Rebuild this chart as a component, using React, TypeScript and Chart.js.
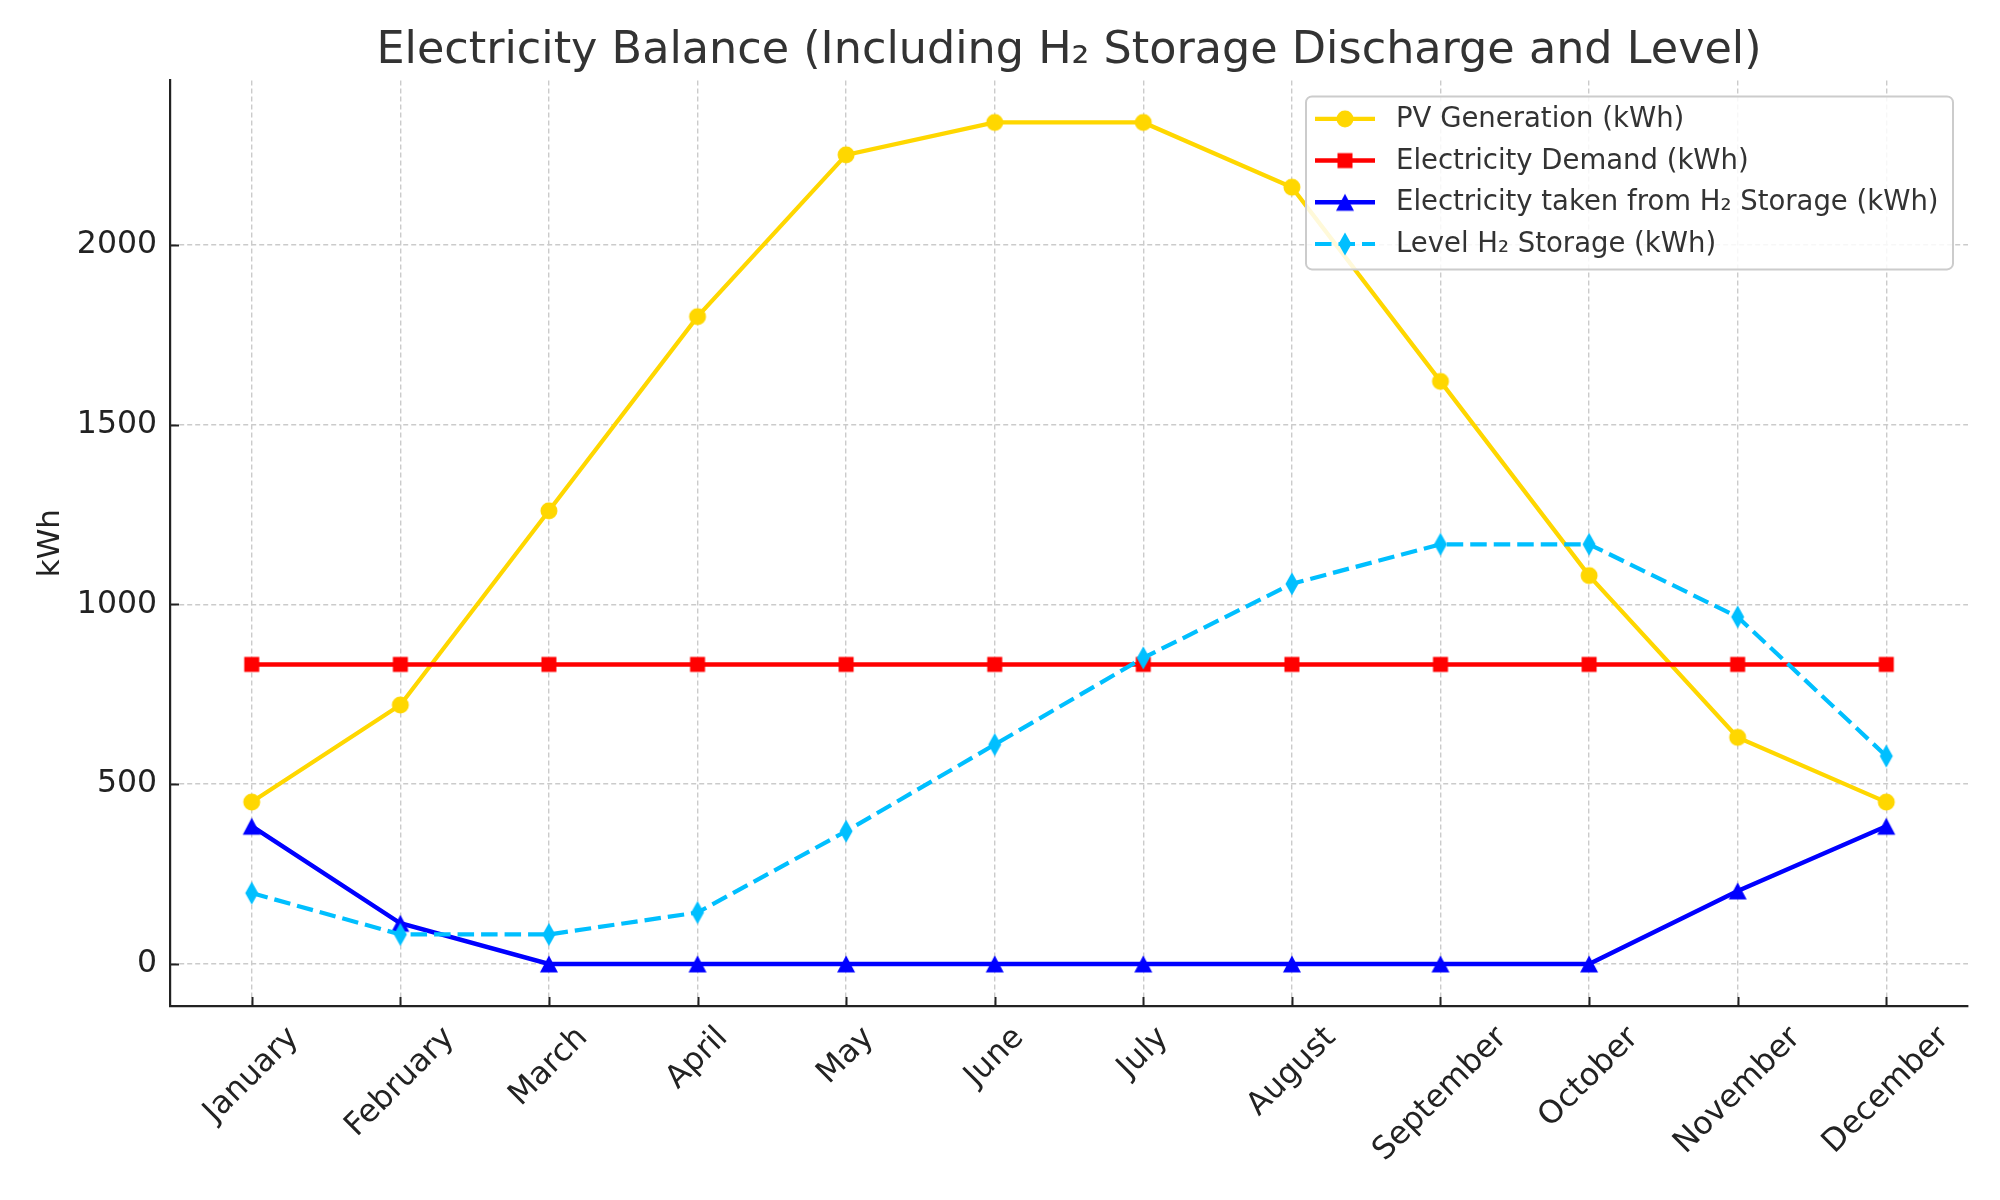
import React, { useEffect, useRef } from 'react';
import { Chart, registerables } from 'chart.js';

Chart.register(...registerables);

const FONT = '"DejaVu Sans", sans-serif';

const months = ['January', 'February', 'March', 'April', 'May', 'June', 'July', 'August', 'September', 'October', 'November', 'December'];
const pvGeneration = [450, 720, 1260, 1800, 2250, 2340, 2340, 2160, 1620, 1080, 630, 450];
const electricityDemand = [833, 833, 833, 833, 833, 833, 833, 833, 833, 833, 833, 833];
const h2Discharge = [383, 113, 0, 0, 0, 0, 0, 0, 0, 0, 203, 383];
const h2Level = [197, 82, 82, 143, 369, 610, 851, 1057, 1167, 1167, 965, 578];
const yTicks = [0, 500, 1000, 1500, 2000];
const seriesLabels = [
  'PV Generation (kWh)',
  'Electricity Demand (kWh)',
  'Electricity taken from H\u2082 Storage (kWh)',
  'Level H\u2082 Storage (kWh)',
];
const seriesColors = ['#FFD700', '#FF0000', '#0000FF', '#00BFFF'];
const titleText = 'Electricity Balance (Including H\u2082 Storage Discharge and Level)';

function makeMarker(shape: string, color: string): HTMLCanvasElement {
  const c = document.createElement('canvas');
  const size = 28;
  c.width = size;
  c.height = size;
  const g = c.getContext('2d')!;
  const cx = size / 2;
  const cy = size / 2;
  g.fillStyle = color;
  g.beginPath();
  if (shape === 'circle') {
    g.arc(cx, cy, 8.5, 0, Math.PI * 2);
  } else if (shape === 'square') {
    g.rect(cx - 7.5, cy - 7.5, 15, 15);
  } else if (shape === 'triangle') {
    g.moveTo(cx, cy - 8.5);
    g.lineTo(cx + 9, cy + 8.5);
    g.lineTo(cx - 9, cy + 8.5);
    g.closePath();
  } else {
    g.moveTo(cx, cy - 11.5);
    g.lineTo(cx + 6.5, cy);
    g.lineTo(cx, cy + 11.5);
    g.lineTo(cx - 6.5, cy);
    g.closePath();
  }
  g.fill();
  return c;
}

export default function App() {
  const ref = useRef<HTMLCanvasElement | null>(null);

  useEffect(() => {
    const canvas = ref.current;
    if (!canvas) return;
    const shapes = ['circle', 'square', 'triangle', 'diamond'];
    const markers = shapes.map((s, i) => makeMarker(s, seriesColors[i]));
    const series = [pvGeneration, electricityDemand, h2Discharge, h2Level];
    const dashes = [[], [], [], [16.5, 7]];
    const widths = [4.2, 4.5, 4.5, 4.2];

    const overlay = {
      id: 'overlay',
      afterDraw(chart: any) {
        const { ctx, chartArea, scales } = chart;
        const xs = scales.x;
        const ys = scales.y;
        ctx.save();
        // inward tick marks
        ctx.strokeStyle = '#222222';
        ctx.lineWidth = 2;
        ctx.setLineDash([]);
        months.forEach((_, i) => {
          const x = Math.round(xs.getPixelForValue(i)) + 0.5;
          ctx.beginPath();
          ctx.moveTo(x, chartArea.bottom);
          ctx.lineTo(x, chartArea.bottom - 9);
          ctx.stroke();
        });
        yTicks.forEach((v) => {
          const y = Math.round(ys.getPixelForValue(v)) + 0.5;
          ctx.beginPath();
          ctx.moveTo(chartArea.left, y);
          ctx.lineTo(chartArea.left + 9, y);
          ctx.stroke();
        });
        // rotated x labels, centred on ticks
        const fs = 31.5;
        ctx.font = `${fs}px ${FONT}`;
        ctx.fillStyle = '#222222';
        ctx.textAlign = 'center';
        ctx.textBaseline = 'middle';
        months.forEach((m, i) => {
          const w = ctx.measureText(m).width;
          const h = fs * 1.164;
          const half = ((w + h) * Math.SQRT1_2) / 2;
          const cx = xs.getPixelForValue(i);
          const cy = chartArea.bottom + 14 + half;
          ctx.save();
          ctx.translate(cx, cy);
          ctx.rotate(-Math.PI / 4);
          ctx.fillText(m, 0, 0);
          ctx.restore();
        });
        // legend
        const bw = 647;
        const bh = 173;
        const bx = chartArea.right - 15 - bw;
        const by = chartArea.top + 16;
        ctx.beginPath();
        ctx.roundRect(bx, by, bw, bh, 6);
        ctx.fillStyle = 'rgba(255,255,255,0.85)';
        ctx.fill();
        ctx.strokeStyle = '#cccccc';
        ctx.lineWidth = 2;
        ctx.stroke();
        ctx.font = `27.5px ${FONT}`;
        ctx.textAlign = 'left';
        ctx.textBaseline = 'middle';
        seriesLabels.forEach((label, k) => {
          const ry = by + 22.5 + k * 41.7;
          ctx.strokeStyle = seriesColors[k];
          ctx.lineWidth = widths[k];
          ctx.setLineDash(dashes[k]);
          ctx.beginPath();
          ctx.moveTo(bx + 9, ry);
          ctx.lineTo(bx + 69, ry);
          ctx.stroke();
          ctx.setLineDash([]);
          const mk = markers[k];
          ctx.drawImage(mk, bx + 39 - mk.width / 2, ry - mk.height / 2);
          ctx.fillStyle = '#333333';
          ctx.fillText(label, bx + 90, ry + 1);
        });
        ctx.restore();
      },
    };

    const gridOpts = { color: '#cbcbcb', lineWidth: 1.4, drawTicks: false };
    const borderOpts = { display: true, color: '#222222', width: 2.2, dash: [5, 3] };

    const chart = new Chart(canvas, {
      type: 'line',
      data: {
        datasets: series.map((vals, k) => ({
          label: seriesLabels[k],
          data: vals.map((v, i) => ({ x: i, y: v })),
          borderColor: seriesColors[k],
          backgroundColor: seriesColors[k],
          borderWidth: widths[k],
          borderDash: dashes[k],
          pointStyle: markers[k],
          pointRadius: 9,
          pointHoverRadius: 9,
          tension: 0,
          fill: false,
          order: 3 - k,
        })),
      },
      options: {
        responsive: false,
        animation: false,
        devicePixelRatio: 1,
        layout: { padding: { left: 0, right: 32, top: 0, bottom: 0 } },
        plugins: {
          legend: { display: false },
          tooltip: { enabled: false },
          title: {
            display: true,
            fullSize: false,
            text: titleText,
            color: '#333333',
            font: { family: FONT, size: 44.5, weight: 'normal' },
            padding: { top: 25, bottom: 2 },
          },
        },
        scales: {
          x: {
            type: 'linear',
            min: -0.55,
            max: 11.55,
            afterBuildTicks: (s: any) => {
              s.ticks = months.map((_, i) => ({ value: i }));
            },
            afterFit: (s: any) => {
              s.height = 194;
            },
            ticks: { display: false },
            grid: gridOpts,
            border: borderOpts,
          },
          y: {
            type: 'linear',
            min: -117,
            max: 2457,
            afterBuildTicks: (s: any) => {
              s.ticks = yTicks.map((v) => ({ value: v }));
            },
            afterFit: (s: any) => {
              s.width = 170;
            },
            ticks: {
              color: '#222222',
              font: { family: FONT, size: 31.5 },
              padding: 13,
              callback: (v: any) => String(v),
            },
            grid: gridOpts,
            border: borderOpts,
            title: {
              display: true,
              text: 'kWh',
              color: '#222222',
              font: { family: FONT, size: 31 },
              padding: { top: 32, bottom: 0 },
            },
          },
        },
      },
      plugins: [overlay],
    } as any);

    return () => chart.destroy();
  }, []);

  return (
    <div style={{ position: 'absolute', left: 0, top: 0, width: 2000, height: 1200, background: '#ffffff' }}>
      <canvas ref={ref} width={2000} height={1200} style={{ width: 2000, height: 1200, display: 'block' }} />
    </div>
  );
}
